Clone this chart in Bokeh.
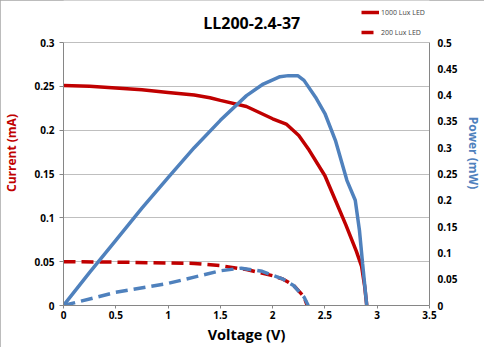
from bokeh.plotting import figure
from bokeh.models import Range1d, LinearAxis, FixedTicker, Legend, LegendItem, Label
from bokeh.embed import file_html
from bokeh.resources import INLINE

# ---- data ----
v_cur_1000 = [0, 0.25, 0.5, 0.75, 1.0, 1.25, 1.4, 1.5, 1.75, 2.0, 2.13, 2.25, 2.35, 2.5, 2.6, 2.7, 2.8, 2.85, 2.88, 2.9]
cur_1000 = [0.251, 0.250, 0.248, 0.246, 0.243, 0.240, 0.237, 0.234, 0.227, 0.213, 0.207, 0.194, 0.177, 0.148, 0.120, 0.092, 0.062, 0.045, 0.022, 0.0]

v_pow_1000 = [0, 0.25, 0.5, 0.75, 1.0, 1.25, 1.5, 1.75, 1.91, 2.07, 2.15, 2.24, 2.30, 2.41, 2.50, 2.60, 2.71, 2.79, 2.83, 2.86, 2.9]
pow_1000 = [0, 0.063, 0.124, 0.185, 0.243, 0.300, 0.352, 0.399, 0.421, 0.435, 0.437, 0.437, 0.428, 0.396, 0.365, 0.314, 0.238, 0.200, 0.143, 0.080, 0.0]

v_cur_200 = [0, 0.5, 1.0, 1.25, 1.5, 1.75, 2.0, 2.1, 2.2, 2.3, 2.33]
cur_200 = [0.050, 0.0495, 0.0485, 0.048, 0.0455, 0.041, 0.034, 0.030, 0.023, 0.010, 0.0]

v_pow_200 = [0, 0.5, 1.0, 1.25, 1.5, 1.7, 1.9, 2.1, 2.2, 2.3, 2.34]
pow_200 = [0, 0.025, 0.042, 0.054, 0.066, 0.071, 0.065, 0.050, 0.038, 0.016, 0.0]

x_ticks = [0, 0.5, 1, 1.5, 2, 2.5, 3, 3.5]
x_tick_labels = ["0", "0.5", "1", "1.5", "2", "2.5", "3", "3.5"]
cur_ticks = [0, 0.05, 0.1, 0.15, 0.2, 0.25, 0.3]
cur_tick_labels = ["0", "0.05", "0.1", "0.15", "0.2", "0.25", "0.3"]
pow_ticks = [0, 0.05, 0.1, 0.15, 0.2, 0.25, 0.3, 0.35, 0.4, 0.45, 0.5]
pow_tick_labels = ["0", "0.05", "0.1", "0.15", "0.2", "0.25", "0.3", "0.35", "0.4", "0.45", "0.5"]

title_text = "LL200-2.4-37"
legend_labels = ["1000 Lux LED", "200 Lux LED"]

RED = "#C00000"
BLUE = "#4F81BD"
FONT = "Open Sans"

# layout: frame spans the full height above the x axis; the plotted area
# (0..0.3) occupies the lower 263 of 305 px, leaving room for title + legend
FRAME_H = 305
PLOT_H = 263
stretch = FRAME_H / PLOT_H
cur_max = cur_ticks[-1]
pow_max = pow_ticks[-1]

p = figure(width=484, height=347, output_backend="svg", toolbar_location=None,
           x_range=Range1d(x_ticks[0], x_ticks[-1]),
           y_range=Range1d(0, cur_max * stretch),
           min_border_left=63, min_border_right=48, min_border_top=0, min_border_bottom=42)
p.extra_y_ranges = {"power": Range1d(0, pow_max * stretch)}
p.styles = {"outline": "1px solid #A6A6A6", "outline-offset": "-1px"}

p.outline_line_color = None
p.xgrid.grid_line_color = None
p.ygrid.grid_line_color = "#BFBFBF"
p.ygrid.ticker = FixedTicker(ticks=cur_ticks)

def style_axis(ax, ticks, labels):
    ax.ticker = FixedTicker(ticks=ticks)
    ax.major_label_overrides = dict(zip(ticks, labels))
    ax.minor_tick_line_color = None
    ax.axis_line_color = "#868686"
    ax.major_tick_line_color = "#868686"
    ax.major_tick_in = 0
    ax.major_tick_out = 4
    ax.major_label_text_font = FONT
    ax.major_label_text_font_style = "bold"
    ax.major_label_text_font_size = "10px"
    ax.major_label_text_color = "#000000"
    ax.axis_label_text_font = FONT
    ax.axis_label_text_font_style = "bold"
    ax.axis_label_text_font_size = "12px"

xa = p.xaxis[0]
style_axis(xa, x_ticks, x_tick_labels)
xa.axis_label = "Voltage (V)"
xa.axis_label_text_color = "#000000"
xa.axis_label_text_font_size = "14.5px"
xa.major_tick_out = 3
xa.major_label_standoff = 2
xa.axis_label_standoff = 3

ya = p.yaxis[0]
style_axis(ya, cur_ticks, cur_tick_labels)
ya.bounds = (0, cur_max)
ya.axis_label = "Current (mA)"
ya.axis_label_text_color = RED
ya.major_label_standoff = 5
ya.axis_label_standoff = 11

ra = LinearAxis(y_range_name="power")
style_axis(ra, pow_ticks, pow_tick_labels)
ra.bounds = (0, pow_max)
ra.axis_label = "Power (mW)"
ra.axis_label_text_color = BLUE
ra.major_label_standoff = 8
ra.axis_label_standoff = 4
ra.major_tick_out = 0
p.add_layout(ra, "right")

r1 = p.line(v_cur_1000, cur_1000, line_color=RED, line_width=3.5)
r2 = p.line(v_cur_200, cur_200, line_color=RED, line_width=3.5, line_dash="12 6")
p.line(v_pow_1000, pow_1000, line_color=BLUE, line_width=3.5, y_range_name="power")
p.line(v_pow_200, pow_200, line_color=BLUE, line_width=3.5, line_dash="12 6", y_range_name="power")

title = Label(x=1.8, y=cur_max * (FRAME_H - 22.5) / PLOT_H, text=title_text,
              text_align="center", text_baseline="middle",
              text_font=FONT, text_font_size="16px", text_font_style="bold",
              text_color="#000000")
p.add_layout(title)

legend = Legend(items=[LegendItem(label=legend_labels[0], renderers=[r1]),
                       LegendItem(label=legend_labels[1], renderers=[r2])],
                location=(298, 268), orientation="vertical",
                glyph_width=18, glyph_height=10, label_height=10, spacing=10,
                label_standoff=2, padding=0, margin=0,
                label_text_font=FONT, label_text_font_size="7px",
                background_fill_alpha=0, border_line_alpha=0)
p.add_layout(legend, "center")

open("out.html", "w").write(file_html(p, INLINE))
